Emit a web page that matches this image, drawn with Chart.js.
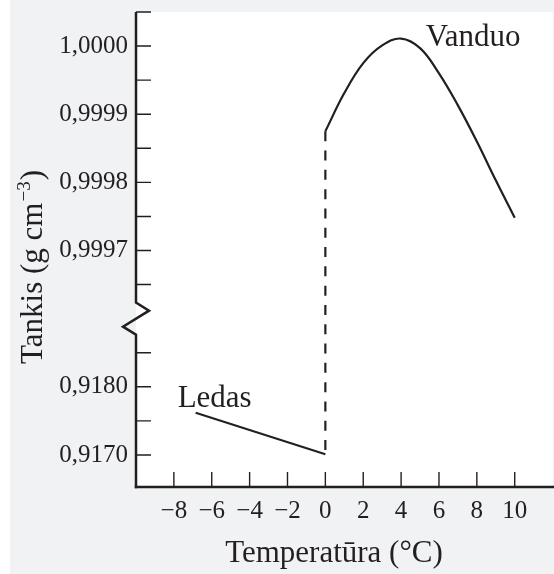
<!DOCTYPE html>
<html>
<head>
<meta charset="utf-8">
<script src="https://cdn.jsdelivr.net/npm/chart.js@4.4.1/dist/chart.umd.min.js"></script>
<style>
  html, body { margin: 0; padding: 0; background: #ffffff; }
  #wrap { width: 554px; height: 574px; }
</style>
</head>
<body>
<div id="wrap"><canvas id="c" width="554" height="574"></canvas></div>
<script>
// ---- data ----
const waterTemps   = [0, 1, 2, 3, 4, 5, 6, 7, 8, 9, 10];
const waterDensity = [0.999875, 0.999931, 0.999975, 1.000001, 1.000011, 0.999997,
                      0.999960, 0.999913, 0.999860, 0.999803, 0.999748];
const iceTemps     = [-6.85, 0];
const iceDensity   = [0.91762, 0.91701];

const xTickValues      = [-8, -6, -4, -2, 0, 2, 4, 6, 8, 10];
const yTopTickValues   = [0.99965, 0.9997, 0.99975, 0.9998, 0.99985, 0.9999, 0.99995, 1.0000, 1.00005];
const yTopLabelValues  = [0.9997, 0.9998, 0.9999, 1.0000];
const yBotTickValues   = [0.9170, 0.9175, 0.9180, 0.9185];
const yBotLabelValues  = [0.9170, 0.9180];

const waterLabel = 'Vanduo';
const iceLabel   = 'Ledas';
const xTitle     = 'Temperatūra (°C)';
const yTitleMain = 'Tankis (g cm';
const yTitleSup  = '\u22123';
const yTitleEnd  = ')';

// ---- styling ----
const INK = '#231f20';
const BG = '#f1f2f4';
const FONT = "'Liberation Serif', 'DejaVu Serif', serif";

function isLabeled(v, list) { return list.some(l => Math.abs(l - v) < 1e-9); }
function fmtDens(v) { return v.toFixed(4).replace('.', ','); }
function noPad(s) { s.paddingTop = 0; s.paddingBottom = 0; s.paddingLeft = 0; s.paddingRight = 0; }

const decor = {
  id: 'decor',
  beforeDraw(chart) {
    const c = chart.ctx, a = chart.chartArea;
    c.save();
    c.fillStyle = BG;
    c.fillRect(10, 0, chart.width - 10, chart.height);
    c.fillStyle = '#ffffff';
    c.fillRect(a.left, a.top, a.right - a.left, a.bottom - a.top);
    c.restore();
  },
  afterDatasetsDraw(chart) {
    const c = chart.ctx, a = chart.chartArea;
    const xs = chart.scales.x, yt = chart.scales.yTop, yb = chart.scales.yBot;
    c.save();
    c.strokeStyle = INK;
    c.lineCap = 'butt';

    // dashed link at 0 °C between ice and water
    const x0 = xs.getPixelForValue(0);
    c.lineWidth = 2.2;
    c.setLineDash([10, 9.3]);
    c.beginPath();
    c.moveTo(x0, yt.getPixelForValue(waterDensity[0]));
    c.lineTo(x0, yb.getPixelForValue(iceDensity[iceDensity.length - 1]));
    c.stroke();
    c.setLineDash([]);

    // y axis with break
    const ax = a.left;
    const brk = yt.bottom;
    c.lineWidth = 2.5;
    c.lineJoin = 'miter';
    c.beginPath();
    c.moveTo(ax, a.top);
    c.lineTo(ax, brk - 16);
    c.lineTo(ax + 13, brk - 8);
    c.lineTo(ax - 13, brk + 8);
    c.lineTo(ax, brk + 16);
    c.lineTo(ax, a.bottom + 1.2);
    c.stroke();

    // x axis
    c.beginPath();
    c.moveTo(ax - 1.2, a.bottom);
    c.lineTo(chart.width, a.bottom);
    c.stroke();

    // inward tick marks
    c.lineWidth = 1.4;
    c.beginPath();
    yt.ticks.forEach(t => {
      const y = yt.getPixelForValue(t.value);
      c.moveTo(ax, y); c.lineTo(ax + 15, y);
    });
    yb.ticks.forEach(t => {
      const y = yb.getPixelForValue(t.value);
      c.moveTo(ax, y); c.lineTo(ax + 15, y);
    });
    xs.ticks.forEach(t => {
      const x = xs.getPixelForValue(t.value);
      c.moveTo(x, a.bottom); c.lineTo(x, a.bottom - 15);
    });
    c.stroke();

    // series annotations
    c.fillStyle = INK;
    c.font = '31px ' + FONT;
    c.textAlign = 'left';
    c.textBaseline = 'alphabetic';
    c.fillText(waterLabel, xs.getPixelForValue(5.3), yt.getPixelForValue(1.0000));
    c.fillText(iceLabel, xs.getPixelForValue(-7.8), yb.getPixelForValue(0.91771));

    // x title
    c.textAlign = 'center';
    c.fillText(xTitle, 334, 562);

    // y title (rotated, with superscript)
    c.save();
    c.translate(42, 267);
    c.rotate(-Math.PI / 2);
    c.font = '31px ' + FONT;
    const w1 = c.measureText(yTitleMain).width;
    c.font = '19px ' + FONT;
    const w2 = c.measureText(yTitleSup).width;
    c.font = '31px ' + FONT;
    const w3 = c.measureText(yTitleEnd).width;
    let x = -(w1 + w2 + 2 + w3) / 2;
    c.textAlign = 'left';
    c.fillText(yTitleMain, x, 0); x += w1 + 1;
    c.font = '19px ' + FONT;
    c.fillText(yTitleSup, x, -12); x += w2 + 1;
    c.font = '31px ' + FONT;
    c.fillText(yTitleEnd, x, 0);
    c.restore();

    c.restore();
  }
};

const tickFont = { family: FONT, size: 25 };

new Chart(document.getElementById('c'), {
  type: 'scatter',
  data: {
    datasets: [
      {
        label: waterLabel,
        data: waterTemps.map((t, i) => ({ x: t, y: waterDensity[i] })),
        yAxisID: 'yTop',
        showLine: true,
        borderColor: INK,
        borderWidth: 2.2,
        pointRadius: 0,
        tension: 0.4,
        fill: false
      },
      {
        label: iceLabel,
        data: iceTemps.map((t, i) => ({ x: t, y: iceDensity[i] })),
        yAxisID: 'yBot',
        showLine: true,
        borderColor: INK,
        borderWidth: 2.2,
        pointRadius: 0,
        tension: 0,
        fill: false
      }
    ]
  },
  options: {
    responsive: false,
    animation: false,
    devicePixelRatio: 1,
    layout: { padding: { top: 12, right: 1.4, left: 0, bottom: 0 } },
    plugins: { legend: { display: false }, tooltip: { enabled: false } },
    scales: {
      x: {
        type: 'linear', position: 'bottom', min: -10, max: 12,
        grid: { display: false, drawTicks: false }, border: { display: false },
        afterBuildTicks: s => { s.ticks = xTickValues.map(v => ({ value: v })); },
        afterFit: s => { s.height = 87; noPad(s); },
        ticks: {
          autoSkip: false, maxRotation: 0, padding: 9, color: INK, font: tickFont,
          callback: v => (v < 0 ? '\u2212' + Math.abs(v) : String(v))
        }
      },
      yTop: {
        type: 'linear', position: 'left', stack: 'dens', stackWeight: 306.9, weight: 2,
        min: 0.9996, max: 1.00005,
        grid: { display: false, drawTicks: false }, border: { display: false },
        afterBuildTicks: s => { s.ticks = yTopTickValues.map(v => ({ value: v })); },
        afterFit: s => { s.width = 136; noPad(s); },
        ticks: {
          autoSkip: false, padding: 8, color: INK, font: tickFont,
          callback: v => (isLabeled(v, yTopLabelValues) ? fmtDens(v) : '')
        }
      },
      yBot: {
        type: 'linear', position: 'left', stack: 'dens', stackWeight: 168.5, weight: 1,
        min: 0.91653, max: 0.9190,
        grid: { display: false, drawTicks: false }, border: { display: false },
        afterBuildTicks: s => { s.ticks = yBotTickValues.map(v => ({ value: v })); },
        afterFit: s => { s.width = 136; noPad(s); },
        ticks: {
          autoSkip: false, padding: 8, color: INK, font: tickFont,
          callback: v => (isLabeled(v, yBotLabelValues) ? fmtDens(v) : '')
        }
      }
    }
  },
  plugins: [decor]
});
</script>
</body>
</html>
